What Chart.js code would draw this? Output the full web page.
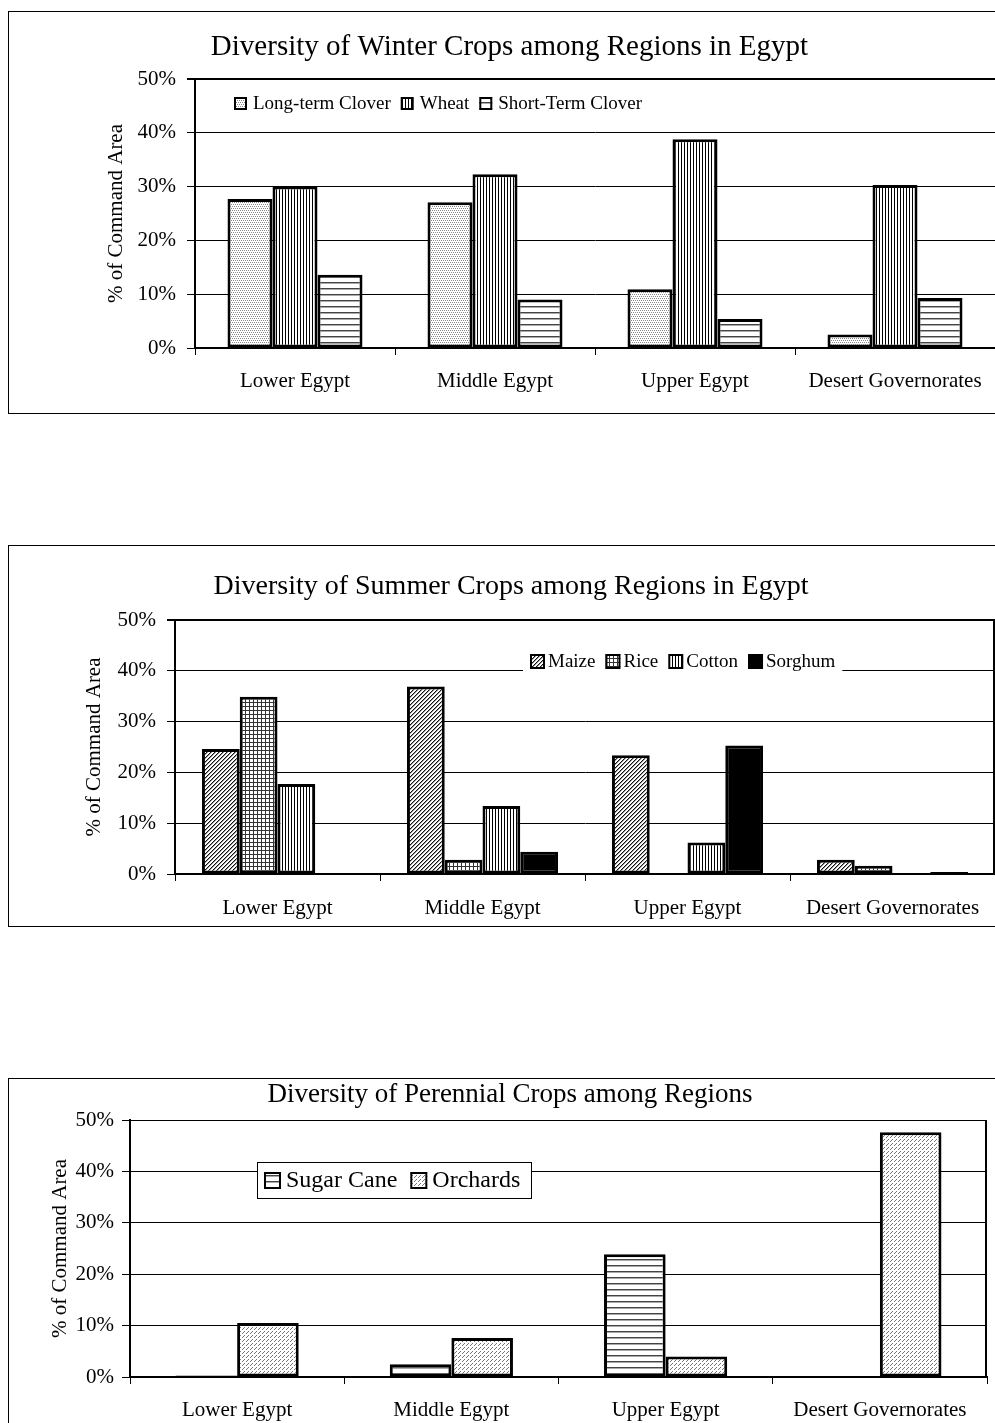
<!DOCTYPE html>
<html>
  <head>
    <meta charset="utf-8">
    <title>Diversity of Crops among Regions in Egypt</title>
    <script src="https://cdn.jsdelivr.net/npm/chart.js@4/dist/chart.umd.min.js"></script>
    <style>
      html, body { margin: 0; padding: 0; background: #fff; overflow: hidden; }
      .box { position: absolute; left: 8px; width: 1000px; border: 1px solid #000; background: #fff; }
      .box canvas { display: block; }
      #box1 { top: 11px; height: 401px; }
      #box2 { top: 545px; height: 380px; }
      #box3 { top: 1078px; height: 350px; }
    </style>
  </head>
  <body>
    <div class="box" id="box1"><canvas id="chart1" width="1000" height="401"></canvas></div>
    <div class="box" id="box2"><canvas id="chart2" width="1000" height="380"></canvas></div>
    <div class="box" id="box3"><canvas id="chart3" width="1000" height="350"></canvas></div>
    <script>
      var regions = ['Lower Egypt', 'Middle Egypt', 'Upper Egypt', 'Desert Governorates'];

      // winter crops (% of command area)
      var longClover  = [27.7, 27.1, 10.9, 2.5];
      var wheat       = [30.0, 32.3, 38.8, 30.3];
      var shortClover = [13.6, 9.0, 5.4, 9.3];

      // summer crops
      var maize   = [24.6, 36.9, 23.4, 2.8];
      var rice    = [34.9, 2.8, 0, 1.6];
      var cotton  = [17.7, 13.4, 6.2, 0];
      var sorghum = [0, 4.4, 25.3, 0.4];

      // perennial crops
      var sugarCane = [0.3, 2.5, 23.9, 0];
      var orchards  = [10.5, 7.6, 4.0, 47.6];

      var yTicks = [0, 10, 20, 30, 40, 50];

      var FONT = '"Liberation Serif", "Times New Roman", serif';
      Chart.defaults.font.family = FONT;
      Chart.defaults.color = '#000';

      function tile(w, h, draw){
        var c = document.createElement('canvas');
        c.width = w; c.height = h;
        var g = c.getContext('2d');
        g.fillStyle = '#fff';
        g.fillRect(0, 0, w, h);
        draw(g);
        return g.createPattern(c, 'repeat');
      }

      var patDots = tile(4, 4, function(g){
        g.fillStyle = '#8a8a8a';
        g.fillRect(0, 0, 1, 1); g.fillRect(2, 0, 1, 1);
        g.fillRect(1, 2, 1, 1); g.fillRect(3, 2, 1, 1);
      });
      var patVLines = tile(3, 3, function(g){
        g.fillStyle = '#000';
        g.fillRect(0, 0, 1, 3);
      });
      var patHLines = tile(6, 6, function(g){
        g.fillStyle = '#444'; g.fillRect(0, 0, 6, 1);
        g.fillStyle = '#aaa'; g.fillRect(0, 1, 6, 1);
      });
      var patDiagDark = tile(4, 4, function(g){
        for(var i = 0; i < 4; i++){
          g.fillStyle = '#111'; g.fillRect(3 - i, i, 1, 1);
          g.fillStyle = '#999'; g.fillRect((4 - i) % 4, i, 1, 1);
        }
      });
      var patGrid = tile(4, 4, function(g){
        g.fillStyle = '#333';
        g.fillRect(0, 0, 4, 1); g.fillRect(0, 0, 1, 4);
      });
      var patDiagLight = tile(8, 8, function(g){
        for(var i = 0; i < 8; i++){
          if(i % 4 == 3) continue;
          g.fillStyle = '#777'; g.fillRect(7 - i, i, 1, 1);
          g.fillRect((11 - i) % 8, i, 1, 1);
        }
      });

      // legend drawn inside the plot, like the original
      var boxLegend = {
        id: 'boxLegend',
        afterDraw: function(chart, args, o){
          var ctx = chart.ctx;
          var sets = chart.data.datasets;
          ctx.save();
          ctx.font = o.size + 'px ' + FONT;
          var w = 0;
          sets.forEach(function(d, i){
            w += o.box + o.gap + ctx.measureText(d.label).width;
            if(i < sets.length - 1) w += o.itemGap;
          });
          if(o.bg){
            ctx.fillStyle = '#fff';
            ctx.fillRect(o.x - o.padL, o.y - o.h / 2, w + o.padL + o.padR, o.h);
            if(o.border){
              ctx.strokeStyle = '#000';
              ctx.lineWidth = 1;
              ctx.strokeRect(Math.round(o.x - o.padL) + 0.5, Math.round(o.y - o.h / 2) + 0.5, Math.round(w + o.padL + o.padR), Math.round(o.h));
            }
          }
          var x = o.x;
          sets.forEach(function(d){
            var top = Math.round(o.y - o.box / 2);
            ctx.fillStyle = d.backgroundColor;
            ctx.fillRect(x, top, o.box, o.box);
            ctx.strokeStyle = '#000';
            ctx.lineWidth = 2;
            ctx.strokeRect(x + 1, top + 1, o.box - 2, o.box - 2);
            x += o.box + o.gap;
            ctx.fillStyle = '#000';
            ctx.textBaseline = 'middle';
            ctx.textAlign = 'left';
            ctx.fillText(d.label, x, o.y + 1);
            x += ctx.measureText(d.label).width + o.itemGap;
          });
          ctx.restore();
        }
      };

      var rightFrame = {
        id: 'rightFrame',
        afterDatasetsDraw: function(chart, args, o){
          if(!o.show) return;
          var a = chart.chartArea, ctx = chart.ctx;
          ctx.save();
          ctx.strokeStyle = '#000';
          ctx.lineWidth = 2;
          ctx.beginPath();
          ctx.moveTo(a.right - 1, a.top);
          ctx.lineTo(a.right - 1, a.bottom);
          ctx.stroke();
          ctx.restore();
        }
      };

      function bar(label, data, fill, catPct){
        return {
          label: label, data: data,
          backgroundColor: fill, borderColor: '#000', borderWidth: 3,
          borderSkipped: false,
          categoryPercentage: catPct, barPercentage: 1
        };
      }

      function makeChart(id, cfg){
        return new Chart(document.getElementById(id), {
          type: 'bar',
          data: { labels: regions, datasets: cfg.datasets },
          plugins: [boxLegend, rightFrame],
          options: {
            responsive: false,
            animation: false,
            devicePixelRatio: 1,
            layout: { padding: { left: cfg.padL, right: cfg.padR, top: 0, bottom: 0 } },
            plugins: {
              legend: { display: false },
              tooltip: { enabled: false },
              title: {
                display: true, text: cfg.title, color: '#000',
                font: { family: FONT, size: cfg.titleSize, weight: 'normal' },
                padding: { top: cfg.titleTop, bottom: cfg.titleBottom }
              },
              boxLegend: cfg.legend,
              rightFrame: { show: cfg.frame }
            },
            scales: {
              x: {
                grid: { drawOnChartArea: false, drawTicks: true, tickLength: 7, color: '#000', offset: true },
                border: { color: '#000', width: 2 },
                ticks: { font: { family: FONT, size: 21 }, color: '#000', padding: cfg.xPad, maxRotation: 0, autoSkip: false },
                afterFit: function(s){ s.height = cfg.xHeight; }
              },
              y: {
                min: 0, max: 50,
                afterBuildTicks: function(s){ s.ticks = yTicks.map(function(v){ return {value: v}; }); },
                grid: {
                  color: '#000', tickLength: 8,
                  lineWidth: function(c){ return (cfg.thickTop && c.tick && c.tick.value === 50) ? 2 : 1; }
                },
                border: { color: '#000', width: 2 },
                ticks: {
                  font: { family: FONT, size: 21 }, color: '#000', padding: cfg.yPad,
                  callback: function(v){ return v + '%'; }
                },
                title: {
                  display: true, text: '% of Command Area', color: '#000',
                  font: { family: FONT, size: 21 },
                  padding: { top: cfg.yTitlePad, bottom: 0 }
                },
                afterFit: function(s){ s.width = cfg.yWidth; }
              }
            }
          }
        });
      }

      makeChart('chart1', {
        title: 'Diversity of Winter Crops among Regions in Egypt',
        titleSize: 29, titleTop: 17.6, titleBottom: 14.6,
        padL: 15, padR: 14, yWidth: 171, xHeight: 65,
        xPad: 13.4, yPad: 11, yTitlePad: 80, thickTop: true, frame: false,
        datasets: [
          bar('Long-term Clover', longClover, patDots, 0.675),
          bar('Wheat', wheat, patVLines, 0.675),
          bar('Short-Term Clover', shortClover, patHLines, 0.675)
        ],
        legend: { x: 225, y: 91, size: 19, box: 13, gap: 6, itemGap: 10, bg: false }
      });

      makeChart('chart2', {
        title: 'Diversity of Summer Crops among Regions in Egypt',
        titleSize: 28, titleTop: 24.2, titleBottom: 16.2,
        padL: 18, padR: 14, yWidth: 148, xHeight: 52,
        xPad: 14.4, yPad: 11, yTitlePad: 55, thickTop: true, frame: true,
        datasets: [
          bar('Maize', maize, patDiagDark, 0.737),
          bar('Rice', rice, patGrid, 0.737),
          bar('Cotton', cotton, patVLines, 0.737),
          bar('Sorghum', sorghum, '#000', 0.737)
        ],
        legend: { x: 521, y: 115, size: 19, box: 15, gap: 3, itemGap: 10, bg: true, border: false, padL: 7, padR: 7, h: 26 }
      });

      makeChart('chart3', {
        title: 'Diversity of Perennial Crops among Regions',
        titleSize: 27, titleTop: 0, titleBottom: 8.6,
        padL: 24, padR: 22, yWidth: 97, xHeight: 52,
        xPad: 13.4, yPad: 8, yTitlePad: 14.4, thickTop: false, frame: true,
        datasets: [
          bar('Sugar Cane', sugarCane, patHLines, 0.575),
          bar('Orchards', orchards, patDiagLight, 0.575)
        ],
        legend: { x: 255, y: 101, size: 24, box: 17, gap: 5, itemGap: 13, bg: true, border: true, padL: 7, padR: 11, h: 36 }
      });
    </script>
  </body>
</html>
